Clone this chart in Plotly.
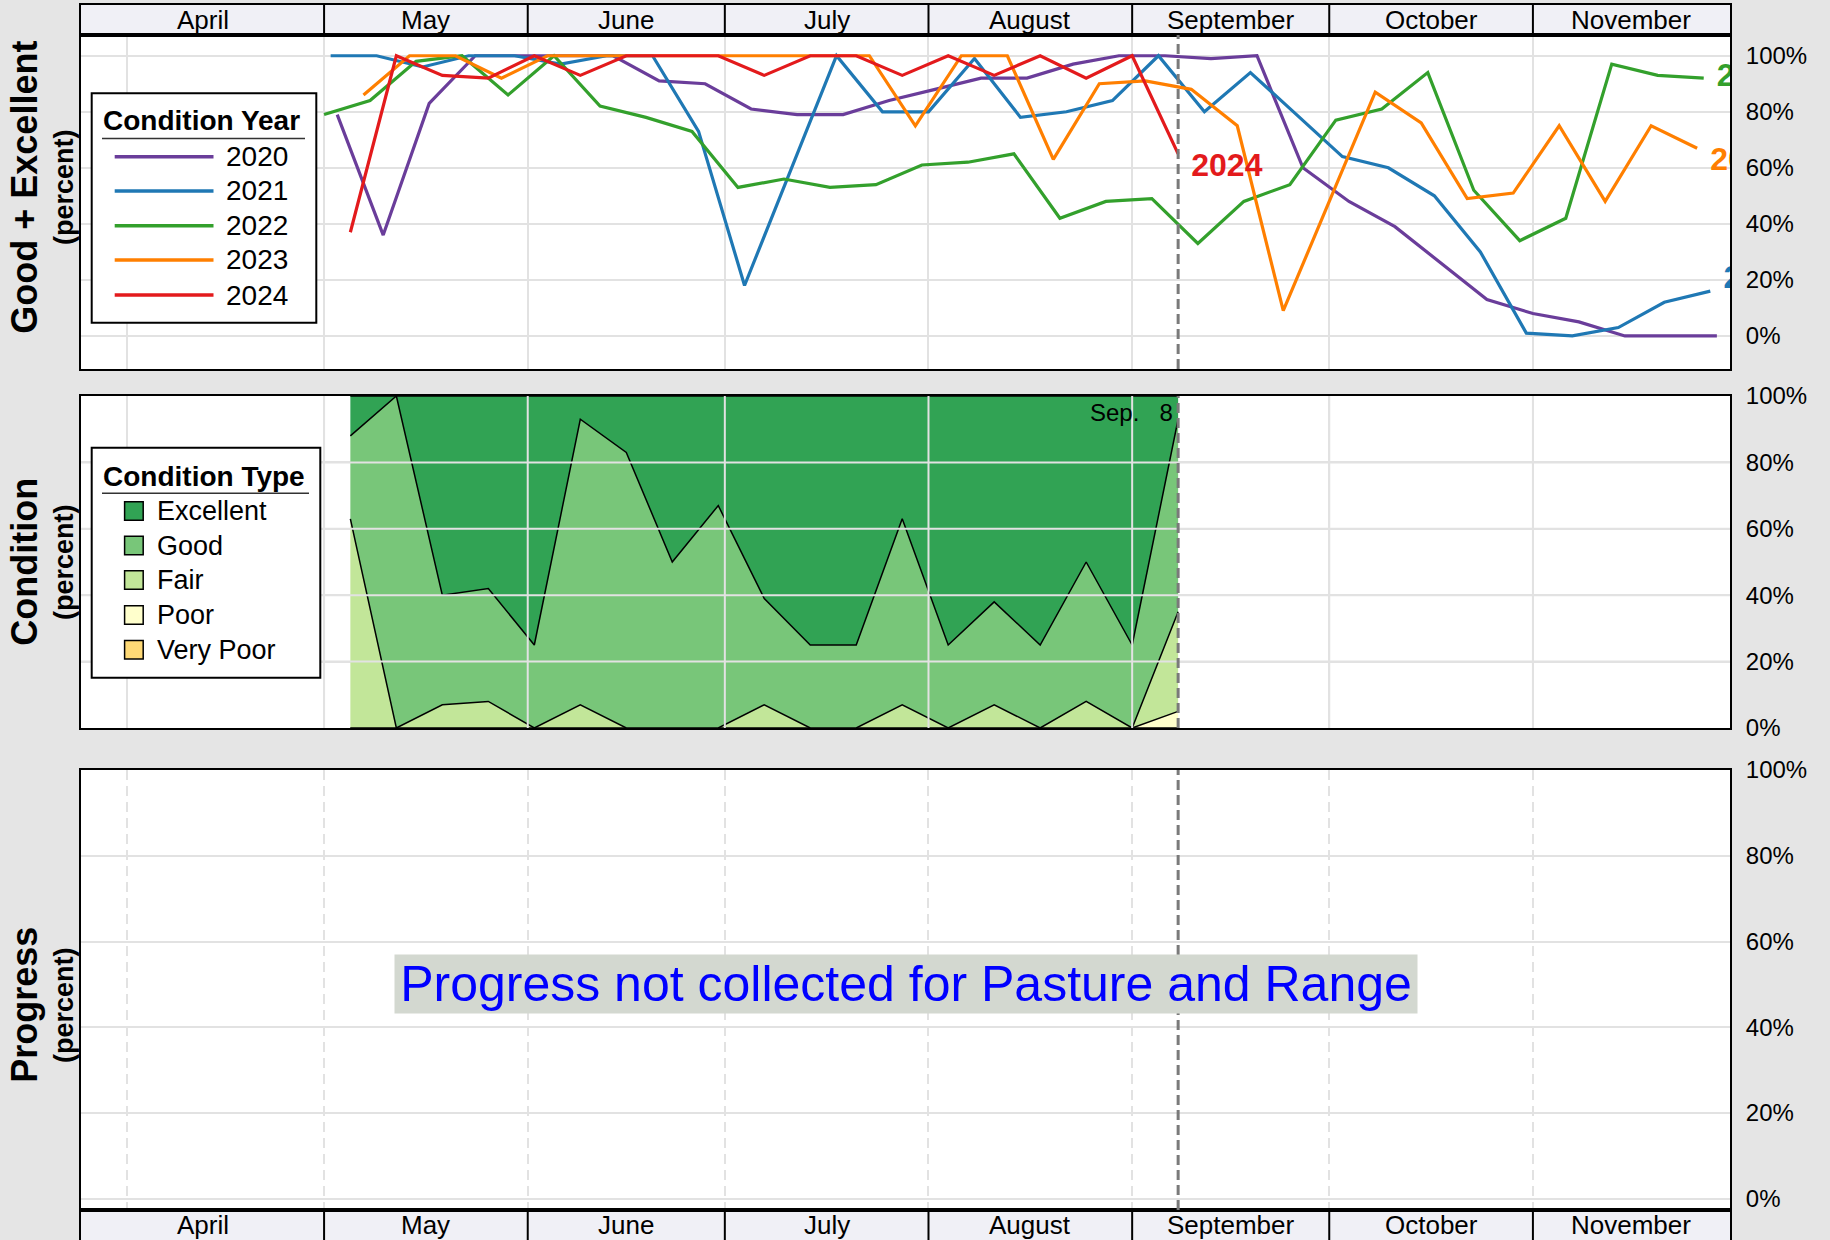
import pandas as pd
import plotly.graph_objects as go

FONT = "Liberation Sans, Arial, Helvetica, sans-serif"

# ---------------- data ----------------
years = [2020, 2021, 2022, 2023, 2024]
year_colors = ["#6a3d9a", "#1f78b4", "#33a02c", "#ff7f00", "#e31a1c"]
first_week = ["2020-05-03", "2021-05-02", "2022-05-01", "2023-05-07", "2024-05-05"]

# Good + Excellent (percent), weekly
ge_2020 = [79, 36, 83, 100, 100, 100, 100, 91, 90, 81, 79, 79, 84, 88, 92, 92, 97, 100,
           100, 99, 100, 60, 48, 39, 26, 13, 8, 5, 0, 0, 0]
ge_2021 = [100, 100, 96, 100, 100, 97, 100, 100, 73, 18, 59, 100, 80, 80, 99, 78, 80, 84,
           100, 80, 94, 79, 64, 60, 50, 30, 1, 0, 3, 12, 16]
ge_2022 = [79, 84, 98, 100, 86, 100, 82, 78, 73, 53, 56, 53, 54, 61, 62, 65, 42, 48, 49,
           33, 48, 54, 77, 81, 94, 52, 34, 42, 97, 93, 92]
ge_2023 = [86, 100, 100, 92, 100, 100, 100, 100, 100, 100, 100, 100, 75, 100, 100, 63, 90,
           91, 88, 75, 9, 48, 87, 76, 49, 51, 75, 48, 75, 67]
label_y = [-4, 20, 92, 62, 60]  # vertical position of the end-of-line year labels

# 2024 condition (percent), weekly
cond_types = ["Excellent", "Good", "Fair", "Poor", "Very Poor"]
cond_colors = ["#31a354", "#78c679", "#c2e699", "#ffffcc", "#fed976"]
excellent = [12, 0, 60, 58, 75, 7, 17, 50, 33, 61, 75, 75, 37, 75, 62, 75, 50, 75, 7]
good = [25, 100, 33, 34, 25, 86, 83, 50, 67, 32, 25, 25, 56, 25, 31, 25, 42, 25, 58]
fair = [63, 0, 7, 8, 0, 7, 0, 0, 0, 7, 0, 0, 7, 0, 7, 0, 8, 0, 30]
poor = [0, 0, 0, 0, 0, 0, 0, 0, 0, 0, 0, 0, 0, 0, 0, 0, 0, 0, 5]
very_poor = [0, 0, 0, 0, 0, 0, 0, 0, 0, 0, 0, 0, 0, 0, 0, 0, 0, 0, 0]
ge_2024 = [e + g for e, g in zip(excellent, good)]

months = ["April", "May", "June", "July", "August", "September", "October", "November"]
month_starts = ["2024-04-01", "2024-05-01", "2024-06-01", "2024-07-01", "2024-08-01",
                "2024-09-01", "2024-10-01", "2024-11-01", "2024-12-01"]
x_range = ["2024-03-25", "2024-12-01"]
y_ticks = [0, 20, 40, 60, 80, 100]
y_ticktext = [f"{t}%" for t in y_ticks]

series = [ge_2020, ge_2021, ge_2022, ge_2023, ge_2024]


def weeks_on_2024(start, n):
    d = pd.date_range(start, periods=n, freq="7D")
    return [pd.Timestamp(2024, t.month, t.day) for t in d]


# ---------------- geometry (pixels) ----------------
W, H = 1830, 1240
ML, MR, MT, MB = 81, 100, 5, 0
PW = W - ML - MR
PH = H - MT - MB


def px(x):
    return (x - ML) / PW


def py(y):
    return (H - MB - y) / PH


fig = go.Figure()

# ---- top panel: Good + Excellent lines ----
for yr, col, start, vals, ly in zip(years, year_colors, first_week, series, label_y):
    xs = weeks_on_2024(start, len(vals))
    fig.add_trace(go.Scatter(x=xs, y=vals, mode="lines", line=dict(color=col, width=3.2),
                             name=str(yr), xaxis="x", yaxis="y", showlegend=False,
                             hoverinfo="x+y+name"))
    fig.add_trace(go.Scatter(x=[xs[-1] + pd.Timedelta(days=2)], y=[ly], mode="text",
                             text=[f"<b>{yr}</b>"], textposition="middle right",
                             textfont=dict(size=32, color=col, family=FONT),
                             cliponaxis=True, xaxis="x", yaxis="y", showlegend=False,
                             hoverinfo="skip"))

# ---- middle panel: stacked condition ----
dates_2024 = weeks_on_2024(first_week[4], len(excellent))
stack_vals = [excellent, good, fair, poor, very_poor]
for name, col, vals in reversed(list(zip(cond_types, cond_colors, stack_vals))):
    fig.add_trace(go.Scatter(x=dates_2024, y=vals, mode="lines", stackgroup="cond",
                             line=dict(color="black", width=1.5), fillcolor=col,
                             name=name, xaxis="x2", yaxis="y2", showlegend=False))

# ---- axes ----
doms = {
    "1": [py(369), py(35)],
    "2": [py(728), py(396)],
    "3": [py(1210), py(770)],
    "4": [py(35), py(5)],        # top month header
    "5": [0, py(1210)],          # bottom month header
}
yranges = {"1": [-11.8, 107.4], "2": [0, 100], "3": [-2.6, 100]}

layout = dict(
    width=W, height=H, paper_bgcolor="#e5e5e5", plot_bgcolor="white",
    margin=dict(l=ML, r=MR, t=MT, b=MB, autoexpand=False), showlegend=False,
    autosize=False, font=dict(family=FONT, color="black"),
)
for k in ["1", "2", "3", "4", "5"]:
    xa = "xaxis" if k == "1" else "xaxis" + k
    ya = "yaxis" if k == "1" else "yaxis" + k
    grid = k in ("1", "2", "3")
    layout[xa] = dict(
        domain=[0, 1], range=x_range, type="date", anchor="y" if k == "1" else "y" + k,
        tickvals=month_starts[:-1], showticklabels=False, ticks="", automargin=False,
        showgrid=grid, gridcolor="#e2e2e2", gridwidth=2,
        griddash="10px,6px" if k == "3" else "solid",
        showline=True, linecolor="black", linewidth=2, mirror=True, zeroline=False,
        fixedrange=True,
    )
    if grid:
        layout[ya] = dict(
            domain=doms[k], range=yranges[k], anchor="x" if k == "1" else "x" + k,
            tickvals=y_ticks, ticktext=y_ticktext, side="right", ticks="outside",
            ticklen=9, tickcolor="rgba(0,0,0,0)", tickfont=dict(size=24, color="black"),
            showgrid=True, gridcolor="#e2e2e2", gridwidth=2, automargin=False,
            showline=True, linecolor="black", linewidth=2, mirror=True, zeroline=False,
            fixedrange=True,
        )
    else:
        layout[ya] = dict(
            domain=doms[k], range=[0, 1], anchor="x" + k, showticklabels=False, ticks="",
            showgrid=False, showline=True, linecolor="black", linewidth=2, mirror=True,
            zeroline=False, fixedrange=True, automargin=False,
        )

shapes = []
annotations = []

# month headers: cells run from the axis start to each next month start
ms = [pd.Timestamp(m) for m in month_starts]
cell_edges = [pd.Timestamp(x_range[0])] + ms[1:]
for k in ["4", "5"]:
    shapes.append(dict(type="rect", xref=f"x{k} domain", yref=f"y{k} domain", x0=0, x1=1,
                       y0=0, y1=1, fillcolor="#f0f0f6", line=dict(width=0), layer="below"))
    for m in cell_edges[1:-1]:
        shapes.append(dict(type="line", xref=f"x{k}", yref=f"y{k} domain", x0=m, x1=m,
                           y0=0, y1=1, line=dict(color="black", width=2)))
    for i, name in enumerate(months):
        a = cell_edges[i]
        b = cell_edges[i + 1]
        annotations.append(dict(text=name, xref=f"x{k}", yref=f"y{k} domain",
                                x=a + (b - a) / 2, y=0.5, showarrow=False,
                                font=dict(size=26, color="black"),
                                xanchor="center", yanchor="middle"))

# middle panel grid above the fills
for m in ms[:-1]:
    shapes.append(dict(type="line", xref="x2", yref="y2 domain", x0=m, x1=m, y0=0, y1=1,
                       line=dict(color="#e2e2e2", width=2), layer="above"))
for t in y_ticks[1:-1]:
    shapes.append(dict(type="line", xref="x2 domain", yref="y2", x0=0, x1=1, y0=t, y1=t,
                       line=dict(color="#e2e2e2", width=2), layer="above"))

# current-week dashed line
cur = dates_2024[-1]
for k in ["", "2", "3"]:
    shapes.append(dict(type="line", xref=f"x{k}", yref=f"y{k} domain", x0=cur, x1=cur,
                       y0=0, y1=1, line=dict(color="#7a7a7a", width=3, dash="10px,5px"),
                       layer="above"))
annotations.append(dict(text=f"{cur:%b}.\u00a0\u00a0\u00a0{cur.day}", xref="x2", yref="y2",
                        x=cur, y=95, xanchor="right", yanchor="middle", xshift=-3,
                        showarrow=False, font=dict(size=24, color="black")))

# progress note
annotations.append(dict(text="Progress not collected for Pasture and Range",
                        xref="x3 domain", yref="y3", x=0.5, y=50, showarrow=False,
                        xanchor="center", yanchor="middle", width=1020, align="center",
                        font=dict(size=50, color="#0000ff"), bgcolor="#d3d8d0",
                        borderpad=1))

# axis titles
titles = [("Good + Excellent", 187), ("Condition", 562), ("Progress", 1005)]
for t, cy in titles:
    annotations.append(dict(text=f"<b>{t}</b>", xref="paper", yref="paper", x=0, y=py(cy),
                            xshift=23.7 - ML, textangle=-90, showarrow=False,
                            xanchor="center", yanchor="middle",
                            font=dict(size=36, color="black")))
    annotations.append(dict(text="<b>(percent)</b>", xref="paper", yref="paper", x=0,
                            y=py(cy), xshift=64 - ML, textangle=-90, showarrow=False,
                            xanchor="center", yanchor="middle",
                            font=dict(size=27, color="black")))


# ---- legends (drawn) ----
def legend_box(x0, y0, x1, y1, title, title_cy, underline_y, underline_x1):
    shapes.append(dict(type="rect", xref="paper", yref="paper", x0=px(x0), x1=px(x1),
                       y0=py(y1), y1=py(y0), fillcolor="white",
                       line=dict(color="black", width=2), layer="above"))
    annotations.append(dict(text=f"<b>{title}</b>", xref="paper", yref="paper",
                            x=px(101), y=py(title_cy), xanchor="left", yanchor="middle",
                            showarrow=False, font=dict(size=28, color="black")))
    shapes.append(dict(type="line", xref="paper", yref="paper", x0=px(102),
                       x1=px(underline_x1), y0=py(underline_y), y1=py(underline_y),
                       line=dict(color="#333333", width=1.5), layer="above"))


legend_box(91.7, 93.3, 316.3, 322.7, "Condition Year", 121, 138.5, 305)
leg1_y = [156.7, 191, 225.7, 260, 295]
for yr, col, cy in zip(years, year_colors, leg1_y):
    shapes.append(dict(type="line", xref="paper", yref="paper", x0=px(114.7), x1=px(213.5),
                       y0=py(cy), y1=py(cy), line=dict(color=col, width=3.5),
                       layer="above"))
    annotations.append(dict(text=str(yr), xref="paper", yref="paper", x=px(224), y=py(cy),
                            xanchor="left", yanchor="middle", showarrow=False,
                            font=dict(size=28, color="black")))

legend_box(91.7, 447.7, 320.3, 677.7, "Condition Type", 476, 493.3, 309)
leg2_y = [511, 545.5, 580, 615, 649.7]
for name, col, cy in zip(cond_types, cond_colors, leg2_y):
    shapes.append(dict(type="rect", xref="paper", yref="paper", x0=px(124.6), x1=px(143.2),
                       y0=py(cy + 9.3), y1=py(cy - 9.3), fillcolor=col,
                       line=dict(color="black", width=1.5), layer="above"))
    annotations.append(dict(text=name, xref="paper", yref="paper", x=px(155), y=py(cy),
                            xanchor="left", yanchor="middle", showarrow=False,
                            font=dict(size=27, color="black")))

layout["shapes"] = shapes
layout["annotations"] = annotations
fig.update_layout(**layout)

fig.write_html(
    "out.html",
    config={"displayModeBar": False},
    post_script="document.body.style.margin='0';document.body.style.overflow='hidden';",
)
